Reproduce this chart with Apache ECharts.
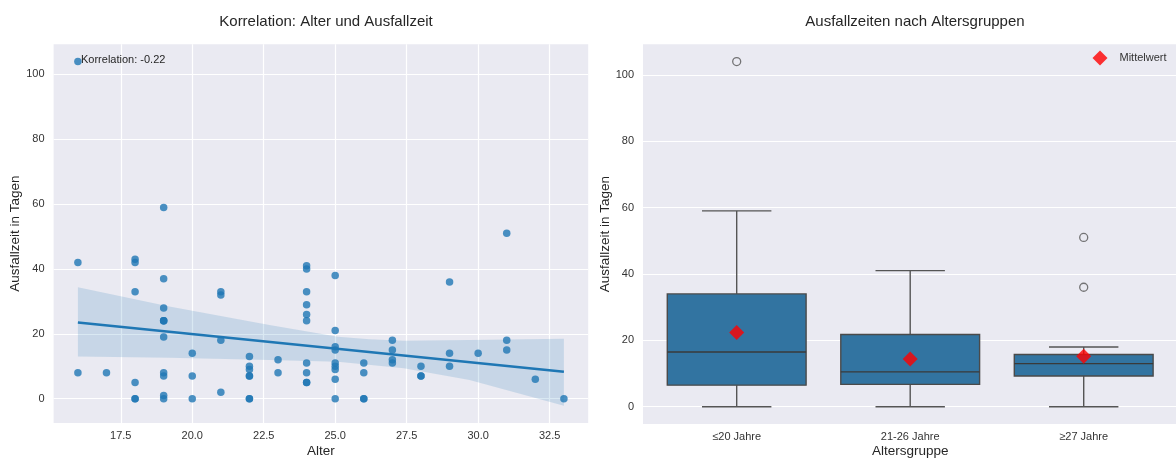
<!DOCTYPE html>
<html>
<head>
<meta charset="utf-8">
<script src="https://cdn.jsdelivr.net/npm/echarts@6/dist/echarts.min.js"></script>
<style>
html,body{margin:0;padding:0;background:#fff;}
#chart{width:1176px;height:459px;}
</style>
</head>
<body>
<div id="chart"></div>
<script>
// ---- Data ----
const ages = [
  16,16,16,17,18,18,18,18,18,18,19,19,19,19,19,19,19,19,19,19,19,20,20,20,
  21,21,21,21,22,22,22,22,22,22,22,23,23,
  24,24,24,24,24,24,24,24,24,24,
  25,25,25,25,25,25,25,25,25,
  26,26,26,26,
  27,27,27,27,28,28,28,29,29,29,30,31,31,31,32,33
];
const days = [
  104,42,8,8,43,42,33,5,0,0,59,37,28,24,24,24,19,8,7,1,0,14,7,0,
  33,32,18,2,13,10,9,7,7,0,0,12,8,
  41,40,33,29,26,24,11,8,5,5,
  38,21,16,15,11,10,9,6,0,
  11,8,0,0,
  18,15,12,11,10,7,7,36,14,10,14,51,18,15,6,0
];
const groupLabels = ['≤20 Jahre', '21-26 Jahre', '≥27 Jahre'];
const xTicks = [17.5, 20, 22.5, 25, 27.5, 30, 32.5];
const yTicks = [0, 20, 40, 60, 80, 100];
const regAges = [16, 33];
const regDays = [23.5, 8.3];
const bandTopAges = [16, 19.2, 22.7, 25.1, 26.2, 27.4, 29.7, 33];
const bandTopDays = [34.4, 28.4, 22.7, 19.1, 18.3, 17.9, 18.1, 18.5];
const bandBotAges = [16, 19.2, 22.7, 25.1, 27.4, 29.7, 33];
const bandBotDays = [13.0, 12.6, 11.9, 11.4, 9.4, 5.8, -2.2];
const corrLabel = 'Korrelation: -0.22';
const leftTitle = 'Korrelation: Alter und Ausfallzeit';
const rightTitle = 'Ausfallzeiten nach Altersgruppen';

// ---- Derived structures ----
const scatterData = ages.map((a, i) => [a, days[i]]);
const bandTop = bandTopAges.map((a, i) => [a, bandTopDays[i]]);
const bandBot = bandBotAges.map((a, i) => [a, bandBotDays[i]]);
const regData = regAges.map((a, i) => [a, regDays[i]]);

function groupOf(a) { return a <= 20 ? 0 : (a <= 26 ? 1 : 2); }
const groups = [[], [], []];
ages.forEach((a, i) => groups[groupOf(a)].push(days[i]));
function quantile(s, p) {
  const pos = (s.length - 1) * p, lo = Math.floor(pos), hi = Math.ceil(pos);
  return s[lo] + (s[hi] - s[lo]) * (pos - lo);
}
const boxStats = [], outliers = [], means = [];
groups.forEach((g, i) => {
  const s = g.slice().sort((a, b) => a - b);
  const q1 = quantile(s, 0.25), med = quantile(s, 0.5), q3 = quantile(s, 0.75);
  const iqr = q3 - q1;
  const inside = s.filter(v => v >= q1 - 1.5 * iqr && v <= q3 + 1.5 * iqr);
  const wlo = inside[0], whi = inside[inside.length - 1];
  s.forEach(v => { if (v < wlo || v > whi) outliers.push([i, v]); });
  boxStats.push([i, q1, med, q3, wlo, whi]);
  means.push([i, s.reduce((a, b) => a + b, 0) / s.length]);
});

const FONT = 'Liberation Sans, Arial, sans-serif';
const TXT = '#262626';
const chart = echarts.init(document.getElementById('chart'), null, {renderer: 'canvas'});

const commonAxisLabel = {color: '#333', fontSize: 11, fontFamily: FONT};
const nameStyle = {fontSize: 13.5, color: TXT, fontFamily: FONT};

chart.setOption({
  backgroundColor: '#ffffff',
  animation: false,
  textStyle: {fontFamily: FONT},
  title: [
    {text: leftTitle, left: 321, top: 9, textAlign: 'center',
     textStyle: {fontSize: 15, fontWeight: 'normal', color: TXT, fontFamily: FONT}},
    {text: rightTitle, left: 910, top: 9, textAlign: 'center',
     textStyle: {fontSize: 15, fontWeight: 'normal', color: TXT, fontFamily: FONT}}
  ],
  legend: {
    data: [{name: 'Mittelwert', icon: 'diamond'}],
    left: 1092.5, top: 50.5, padding: 0, itemWidth: 15, itemHeight: 15,
    textStyle: {fontSize: 11, color: '#333', fontFamily: FONT, padding: [0, 0, 0, 7]}
  },
  grid: [
    {left: 53.6, top: 44.3, width: 534.6, height: 378.7, show: true,
     outerBoundsMode: 'none', containLabel: false,
     backgroundColor: '#EAEAF2', borderWidth: 0},
    {left: 643, top: 44.3, width: 534.4, height: 379.7, show: true,
     outerBoundsMode: 'none', containLabel: false,
     backgroundColor: '#EAEAF2', borderWidth: 0}
  ],
  xAxis: [
    {gridIndex: 0, type: 'value', min: 15.15, max: 33.85,
     axisLine: {show: false}, axisTick: {show: false, customValues: xTicks},
     axisLabel: Object.assign({customValues: xTicks, margin: 7,
       formatter: v => v.toFixed(1)}, commonAxisLabel),
     splitLine: {show: true, lineStyle: {color: '#ffffff', width: 1.2}},
     name: 'Alter', nameLocation: 'middle', nameGap: 21, nameMoveOverlap: false,
     nameTextStyle: nameStyle},
    {gridIndex: 1, type: 'value', min: -0.54, max: 2.54,
     axisLine: {show: false}, axisTick: {show: false, customValues: [0, 1, 2]},
     axisLabel: Object.assign({customValues: [0, 1, 2], margin: 7,
       formatter: v => groupLabels[Math.round(v)]}, commonAxisLabel),
     splitLine: {show: false},
     name: 'Altersgruppe', nameLocation: 'middle', nameGap: 20, nameMoveOverlap: false,
     nameTextStyle: nameStyle}
  ],
  yAxis: [
    {gridIndex: 0, type: 'value', min: -7.5, max: 109.3,
     axisLine: {show: false}, axisTick: {show: false, customValues: yTicks},
     axisLabel: Object.assign({customValues: yTicks, margin: 9}, commonAxisLabel),
     splitLine: {show: true, lineStyle: {color: '#ffffff', width: 1.2}},
     name: 'Ausfallzeit in Tagen', nameLocation: 'middle', nameGap: 31, nameMoveOverlap: false,
     nameTextStyle: nameStyle},
    {gridIndex: 1, type: 'value', min: -5.2, max: 109.2,
     axisLine: {show: false}, axisTick: {show: false, customValues: yTicks},
     axisLabel: Object.assign({customValues: yTicks, margin: 9}, commonAxisLabel),
     splitLine: {show: true, lineStyle: {color: '#ffffff', width: 1.2}},
     name: 'Ausfallzeit in Tagen', nameLocation: 'middle', nameGap: 31, nameMoveOverlap: false,
     nameTextStyle: nameStyle}
  ],
  graphic: [
    {type: 'text', left: 81, top: 54, z: 100,
     style: {text: corrLabel, fontSize: 11, fill: TXT, fontFamily: FONT}}
  ],
  series: [
    {
      type: 'custom', xAxisIndex: 0, yAxisIndex: 0, z: 1, silent: true,
      data: bandTop,
      renderItem: function (params, api) {
        if (params.dataIndex !== 0) return null;
        const pts = bandTop.map(p => api.coord(p))
          .concat(bandBot.slice().reverse().map(p => api.coord(p)));
        return {type: 'polygon', shape: {points: pts},
                style: {fill: 'rgba(31,119,180,0.17)'}};
      }
    },
    {
      type: 'scatter', xAxisIndex: 0, yAxisIndex: 0, z: 2,
      data: scatterData, symbolSize: 7.5,
      itemStyle: {color: '#1f77b4', opacity: 0.8}
    },
    {
      type: 'line', xAxisIndex: 0, yAxisIndex: 0, z: 3,
      data: regData, showSymbol: false,
      lineStyle: {color: '#1f77b4', width: 2.6}
    },
    {
      type: 'custom', xAxisIndex: 1, yAxisIndex: 1, z: 2,
      data: boxStats,
      renderItem: function (params, api) {
        const i = api.value(0), q1 = api.value(1), med = api.value(2),
              q3 = api.value(3), wlo = api.value(4), whi = api.value(5);
        const tl = api.coord([i - 0.4, q3]), br = api.coord([i + 0.4, q1]);
        const mL = api.coord([i - 0.4, med]), mR = api.coord([i + 0.4, med]);
        const c = api.coord([i, 0])[0];
        const yHi = api.coord([i, whi])[1], yLo = api.coord([i, wlo])[1];
        const capL = api.coord([i - 0.2, 0])[0], capR = api.coord([i + 0.2, 0])[0];
        const ls = {stroke: '#555555', lineWidth: 1.4};
        return {type: 'group', children: [
          {type: 'line', shape: {x1: c, y1: tl[1], x2: c, y2: yHi}, style: ls},
          {type: 'line', shape: {x1: c, y1: br[1], x2: c, y2: yLo}, style: ls},
          {type: 'line', shape: {x1: capL, y1: yHi, x2: capR, y2: yHi}, style: ls},
          {type: 'line', shape: {x1: capL, y1: yLo, x2: capR, y2: yLo}, style: ls},
          {type: 'rect', shape: {x: tl[0], y: tl[1], width: br[0] - tl[0], height: br[1] - tl[1]},
           style: {fill: '#3274a1', stroke: '#4a4a4a', lineWidth: 1.4}},
          {type: 'line', shape: {x1: mL[0], y1: mL[1], x2: mR[0], y2: mR[1]},
           style: {stroke: '#3a3a3a', lineWidth: 1.4}}
        ]};
      }
    },
    {
      type: 'scatter', xAxisIndex: 1, yAxisIndex: 1, z: 3,
      data: outliers, symbol: 'circle', symbolSize: 8,
      itemStyle: {color: 'rgba(0,0,0,0)', borderColor: '#555555', borderWidth: 1.3}
    },
    {
      name: 'Mittelwert', type: 'scatter', xAxisIndex: 1, yAxisIndex: 1, z: 4,
      data: means, symbol: 'diamond', symbolSize: 15,
      itemStyle: {color: '#ff0000'}
    }
  ]
});
</script>
</body>
</html>
